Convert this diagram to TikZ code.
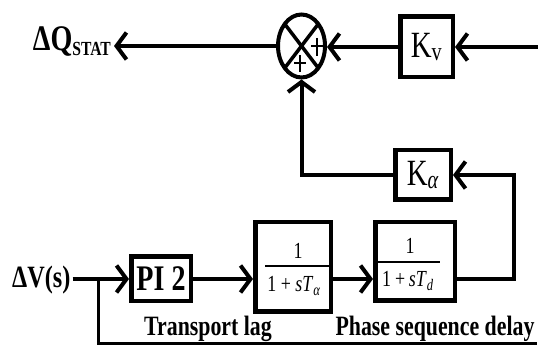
\documentclass[tikz,border=0pt]{standalone}
\usepackage{fontspec}
\setmainfont{Liberation Serif}
\newfontfamily\lab{Liberation Serif}[FakeStretch=0.78]
\usetikzlibrary{arrows.meta,shapes.geometric}
\begin{document}
\begin{tikzpicture}[x=1pt,y=-1pt,
  wire/.style={line width=4pt},
  arr/.style={line width=4pt,-{Straight Barb[length=10pt,width=27pt]}},
  blk/.style={draw,line width=4.5pt,inner sep=0pt},
  bold/.style={font=\lab\bfseries},
  txt/.style={font=\lab}]
\useasboundingbox (0,0) rectangle (538,347);

% summing junction
\node[draw,ellipse,line width=4pt,minimum width=47pt,minimum height=63pt,inner sep=0pt] (sum) at (301.5,46) {};
\draw[line width=3.5pt,shorten >=2pt,shorten <=2pt] (sum.north west) -- (sum.south east);
\draw[line width=3.5pt,shorten >=2pt,shorten <=2pt] (sum.north east) -- (sum.south west);
\draw[line width=1.5pt] (311,46) -- (323,46) (317,38) -- (317,56);
\draw[line width=1.5pt] (294,63) -- (306,63) (300,55) -- (300,72);

% blocks
\node[blk,minimum width=52.5pt,minimum height=60.5pt,txt] (kv) at (426.5,47) {\fontsize{37}{37}\selectfont K\textsubscript{v}};
\node[blk,minimum width=55.5pt,minimum height=49.5pt,txt] (ka) at (423,175) {\fontsize{37}{37}\selectfont K\textsubscript{\textit{α}}};
\node[blk,minimum width=59.5pt,minimum height=44.5pt,bold] (pi) at (161,279) {\fontsize{36}{36}\selectfont PI 2};
\node[blk,minimum width=75.5pt,minimum height=89.5pt] (b1) at (293,267) {};
\node[blk,minimum width=79.5pt,minimum height=78.5pt] (b2) at (415,261.5) {};

% fractions
\node[txt,font=\lab\fontsize{23}{23}\selectfont] (n1) at (298,251) {1};
\draw[line width=1.5pt] (265,266) -- (330,266);
\node[txt,font=\lab\fontsize{23}{23}\selectfont] (d1) at (294,286) {1 + \textit{sT}\textsubscript{\textit{α}}};
\node[txt,font=\lab\fontsize{23}{23}\selectfont] (n2) at (410,246) {1};
\draw[line width=1.5pt] (377,262) -- (440,262);
\node[txt,font=\lab\fontsize{23}{23}\selectfont] (d2) at (408,281) {1\,+\,\textit{sT}\textsubscript{\textit{d}}};

% labels
\node[bold,anchor=base east,inner sep=3pt] (dq) at (114,51) {\fontsize{36}{36}\selectfont ΔQ\raisebox{-5pt}{\fontsize{20}{20}\selectfont STAT}};
\node[bold,anchor=base west,inner sep=2pt] (dv) at (10,288) {\fontsize{31}{31}\selectfont ΔV(s)};
\node[bold,anchor=base] (tl) at (208,335) {\fontsize{28}{28}\selectfont Transport lag};
\node[bold,anchor=base] (ps) at (435,335) {\fontsize{28}{28}\selectfont Phase sequence delay};

% coordinates
\coordinate (kvin) at (538,47);
\coordinate (rt) at (514,175);
\coordinate (br) at (98,279);
\coordinate (bot) at (537,343);

% connectors
\draw[arr] (kvin) -- (kv.east);
\draw[arr] (kv.west) -- (kv.west -| sum.east);
\draw[arr] (sum.west) -- (sum.west -| dq.east);
\draw[arr] (ka.west) -| (sum.south);
\draw[arr] (b2.east |- pi.east) -| (rt) -- (ka.east);
\draw[arr] (dv.east |- pi.west) -- (pi.west);
\draw[arr] (pi.east) -- (pi.east -| b1.west);
\draw[arr] (b1.east |- pi.east) -- (b2.west |- pi.east);
\draw[line width=3pt] (br) |- (bot);
\end{tikzpicture}
\end{document}
